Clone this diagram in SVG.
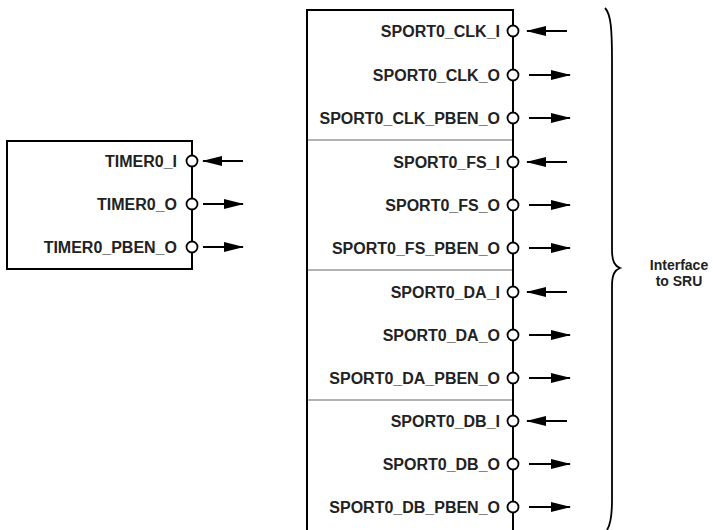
<svg xmlns="http://www.w3.org/2000/svg" width="713" height="530" viewBox="0 0 713 530">
<style>
.box{fill:#fff;stroke:#000;stroke-width:2}
.sep{stroke:#999;stroke-width:1.5}
.pin{fill:#fff;stroke:#000;stroke-width:1.8}
.lbl{font-family:"Liberation Sans",Arial,sans-serif;font-weight:bold;font-size:16px;fill:#222;text-anchor:end}
.note{font-family:"Liberation Sans",Arial,sans-serif;font-weight:bold;font-size:14px;fill:#222;text-anchor:middle}
.wire{stroke:#000;stroke-width:1.8;fill:none}
</style>
<defs>
<marker id="ah" markerWidth="20" markerHeight="10" refX="19" refY="5" orient="auto" markerUnits="userSpaceOnUse">
<path d="M0,0 L20,5 L0,10 Z" fill="#000"/>
</marker>
</defs>
<g id="timer0">
<rect class="box" x="7" y="141" width="185" height="128"/>
<text class="lbl" x="177" y="167">TIMER0_I</text>
<text class="lbl" x="177" y="210">TIMER0_O</text>
<text class="lbl" x="177" y="253">TIMER0_PBEN_O</text>
<circle class="pin" cx="192" cy="161" r="5.5"/>
<circle class="pin" cx="192" cy="204" r="5.5"/>
<circle class="pin" cx="192" cy="247" r="5.5"/>
</g>
<g id="sport0">
<rect class="box" x="307" y="10" width="206" height="540"/>
<line class="sep" x1="308" y1="140" x2="512" y2="140"/>
<line class="sep" x1="308" y1="270" x2="512" y2="270"/>
<line class="sep" x1="308" y1="400" x2="512" y2="400"/>
<text class="lbl" x="500" y="37">SPORT0_CLK_I</text>
<text class="lbl" x="500" y="81">SPORT0_CLK_O</text>
<text class="lbl" x="500" y="124">SPORT0_CLK_PBEN_O</text>
<text class="lbl" x="500" y="168">SPORT0_FS_I</text>
<text class="lbl" x="500" y="211">SPORT0_FS_O</text>
<text class="lbl" x="500" y="254">SPORT0_FS_PBEN_O</text>
<text class="lbl" x="500" y="298">SPORT0_DA_I</text>
<text class="lbl" x="500" y="341">SPORT0_DA_O</text>
<text class="lbl" x="500" y="384">SPORT0_DA_PBEN_O</text>
<text class="lbl" x="500" y="427">SPORT0_DB_I</text>
<text class="lbl" x="500" y="470">SPORT0_DB_O</text>
<text class="lbl" x="500" y="513">SPORT0_DB_PBEN_O</text>
<circle class="pin" cx="513" cy="31" r="5.5"/>
<circle class="pin" cx="513" cy="75" r="5.5"/>
<circle class="pin" cx="513" cy="118" r="5.5"/>
<circle class="pin" cx="513" cy="162" r="5.5"/>
<circle class="pin" cx="513" cy="205" r="5.5"/>
<circle class="pin" cx="513" cy="248" r="5.5"/>
<circle class="pin" cx="513" cy="292" r="5.5"/>
<circle class="pin" cx="513" cy="335" r="5.5"/>
<circle class="pin" cx="513" cy="378" r="5.5"/>
<circle class="pin" cx="513" cy="421" r="5.5"/>
<circle class="pin" cx="513" cy="464" r="5.5"/>
<circle class="pin" cx="513" cy="507" r="5.5"/>
</g>
<g id="connectors">
<line class="wire" x1="243" y1="161" x2="203" y2="161" marker-end="url(#ah)"/>
<line class="wire" x1="203" y1="204" x2="243" y2="204" marker-end="url(#ah)"/>
<line class="wire" x1="203" y1="247" x2="243" y2="247" marker-end="url(#ah)"/>
<line class="wire" x1="567" y1="31" x2="527" y2="31" marker-end="url(#ah)"/>
<line class="wire" x1="529" y1="75" x2="570" y2="75" marker-end="url(#ah)"/>
<line class="wire" x1="529" y1="118" x2="570" y2="118" marker-end="url(#ah)"/>
<line class="wire" x1="567" y1="162" x2="527" y2="162" marker-end="url(#ah)"/>
<line class="wire" x1="529" y1="205" x2="570" y2="205" marker-end="url(#ah)"/>
<line class="wire" x1="529" y1="248" x2="570" y2="248" marker-end="url(#ah)"/>
<line class="wire" x1="567" y1="292" x2="527" y2="292" marker-end="url(#ah)"/>
<line class="wire" x1="529" y1="335" x2="570" y2="335" marker-end="url(#ah)"/>
<line class="wire" x1="529" y1="378" x2="570" y2="378" marker-end="url(#ah)"/>
<line class="wire" x1="567" y1="421" x2="527" y2="421" marker-end="url(#ah)"/>
<line class="wire" x1="529" y1="464" x2="570" y2="464" marker-end="url(#ah)"/>
<line class="wire" x1="529" y1="507" x2="570" y2="507" marker-end="url(#ah)"/>
</g>
<g id="brace">
<path class="wire" d="M605,8 C611,14 612,30 612,60 L612,250 C612,262 615,266 620,268 C615,270 612,274 612,286 L612,500 C612,515 611,524 607,530"/>
<text class="note" x="679" y="270">Interface</text>
<text class="note" x="679" y="286">to SRU</text>
</g>
</svg>
